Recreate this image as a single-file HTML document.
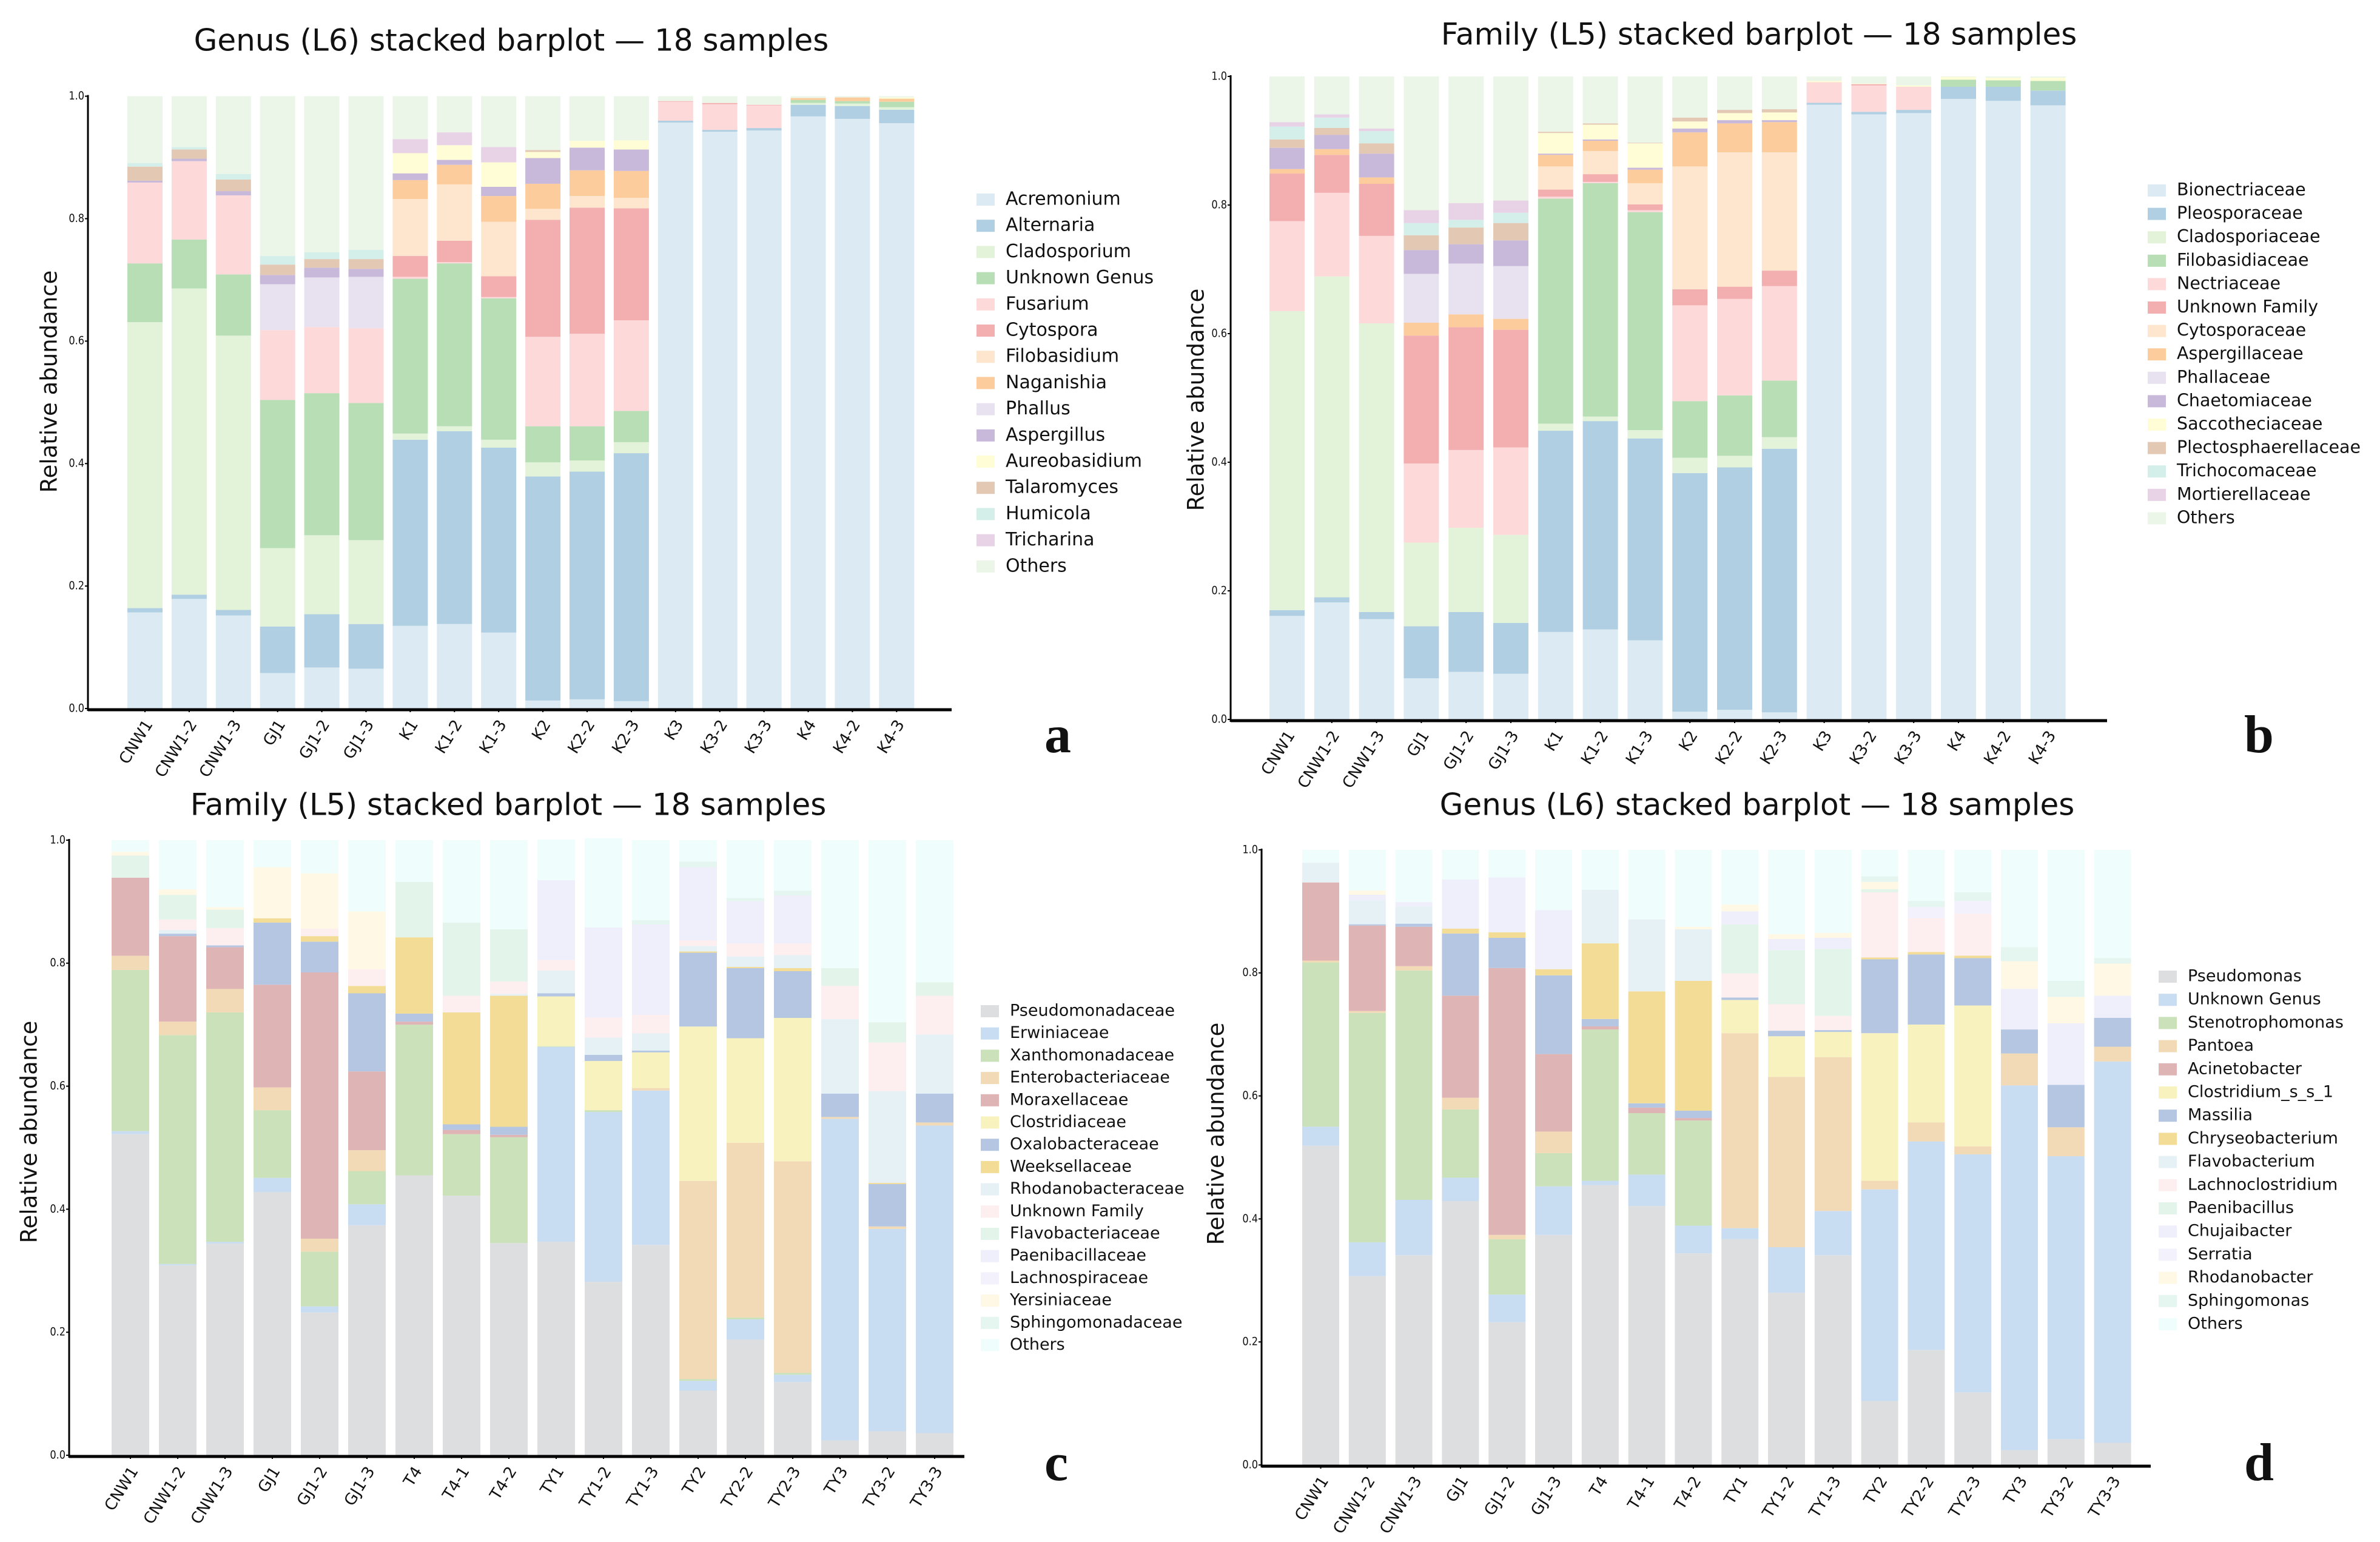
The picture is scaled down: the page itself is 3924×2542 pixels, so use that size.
<!DOCTYPE html>
<html><head><meta charset="utf-8"><style>
html,body{margin:0;padding:0;background:#fff;}
svg{display:block;}
text{font-family:"DejaVu Sans","Liberation Sans",sans-serif;fill:#111;}
</style></head><body>
<svg id="chart" xmlns="http://www.w3.org/2000/svg" width="3924" height="2542" viewBox="0 0 3924 2542"></svg>
<script>
// ---------- Panel a (fungal genus) ----------
const aSamples = ["CNW1","CNW1-2","CNW1-3","GJ1","GJ1-2","GJ1-3","K1","K1-2","K1-3","K2","K2-2","K2-3","K3","K3-2","K3-3","K4","K4-2","K4-3"];
const aNames = ["Acremonium","Alternaria","Cladosporium","Unknown Genus","Fusarium","Cytospora","Filobasidium","Naganishia","Phallus","Aspergillus","Aureobasidium","Talaromyces","Humicola","Tricharina","Others"];
const aAcremonium   = [.157,.179,.152,.058,.067,.065,.135,.138,.124,.013,.015,.012,.957,.942,.944,.967,.963,.956];
const aAlternaria   = [.007,.007,.009,.076,.087,.073,.304,.315,.302,.366,.372,.405,.003,.003,.004,.019,.021,.022];
const aCladosporium = [.467,.500,.448,.128,.129,.137,.010,.008,.013,.023,.018,.018,0,0,0,.003,.004,.004];
const aUnknownGenus = [.096,.080,.100,.242,.232,.224,.253,.266,.231,.059,.056,.051,0,0,0,.005,.004,.009];
const aFusarium     = [.132,.128,.129,.114,.108,.122,.003,.002,.002,.146,.151,.148,.031,.042,.037,0,0,0];
const aCytospora    = [0,0,0,0,0,0,.034,.035,.034,.191,.206,.183,.001,.002,.001,0,0,0];
const aFilobasidium = [0,0,0,0,0,0,.093,.092,.089,.018,.019,.017,0,0,0,0,0,0];
const aNaganishia   = [0,0,0,0,0,0,.031,.032,.042,.041,.042,.044,0,0,0,.003,.006,.005];
const aPhallus      = [0,0,0,.075,.081,.084,0,0,0,0,0,0,0,0,0,0,0,0];
const aAspergillus  = [.003,.004,.007,.015,.016,.013,.011,.008,.015,.042,.037,.035,0,0,0,0,0,0];
const aAureobasidium= [0,0,0,0,0,0,.033,.024,.040,.010,.011,.015,0,0,0,0,0,.002];
const aTalaromyces  = [.023,.015,.019,.017,.014,.016,0,0,0,.003,0,0,0,0,0,0,0,0];
const aHumicola     = [.006,.004,.009,.014,.011,.015,0,0,0,0,0,0,0,0,0,0,0,0];
const aTricharina   = [0,0,0,0,0,0,.023,.021,.025,0,0,0,0,0,0,0,0,0];
const aOthers       = [.109,.083,.127,.261,.255,.251,.070,.059,.083,.088,.073,.072,.008,.011,.014,.003,.002,.002];

// ---------- Panel b (fungal family) ----------
const bSamples = aSamples;
const bNames = ["Bionectriaceae","Pleosporaceae","Cladosporiaceae","Filobasidiaceae","Nectriaceae","Unknown Family","Cytosporaceae","Aspergillaceae","Phallaceae","Chaetomiaceae","Saccotheciaceae","Plectosphaerellaceae","Trichocomaceae","Mortierellaceae","Others"];
const bBionectriaceae = [.161,.182,.156,.064,.074,.071,.136,.140,.123,.012,.015,.011,.956,.941,.943,.965,.962,.955];
const bPleosporaceae  = [.009,.008,.011,.081,.093,.079,.313,.324,.314,.371,.377,.410,.003,.004,.005,.019,.022,.023];
const bCladosporiaceae= [.465,.499,.449,.130,.131,.137,.011,.007,.013,.024,.018,.018,0,0,0,0,0,0];
const bFilobasidiaceae= [0,0,0,0,0,0,.350,.363,.339,.088,.094,.088,0,0,0,.011,.010,.015];
const bNectriaceae    = [.140,.130,.136,.123,.121,.136,.003,.002,.003,.149,.150,.147,.032,.041,.036,0,0,0];
const bUnknownFamily  = [.074,.059,.081,.199,.191,.183,.011,.012,.009,.025,.019,.024,0,.002,0,0,0,0];
const bCytosporaceae  = [0,0,0,0,0,0,.036,.036,.033,.191,.209,.184,0,0,0,0,0,0];
const bAspergillaceae = [.007,.009,.010,.020,.020,.017,.018,.016,.021,.053,.045,.047,0,0,0,0,0,0];
const bPhallaceae     = [0,0,0,.076,.079,.082,0,0,0,0,0,0,0,0,0,0,0,0];
const bChaetomiaceae  = [.033,.022,.037,.037,.030,.040,.002,.002,.003,.006,.005,.003,0,0,0,0,0,0];
const bSaccotheciaceae= [0,0,0,0,0,0,.032,.023,.038,.011,.011,.012,.002,.001,.002,.004,.004,.005];
const bPlectosphaerellaceae=[.013,.011,.016,.023,.026,.027,.002,.002,.001,.006,.005,.005,0,0,0,0,0,0];
const bTrichocomaceae = [.020,.016,.019,.019,.012,.016,0,0,0,0,0,0,0,0,0,0,0,0];
const bMortierellaceae= [.007,.005,.004,.020,.026,.019,0,0,0,0,0,0,0,0,0,0,0,0];
const bOthers         = [.071,.059,.081,.208,.197,.193,.086,.073,.103,.064,.052,.051,.007,.011,.014,.001,.002,.002];

// ---------- Panel c (bacterial family) ----------
const cSamples = ["CNW1","CNW1-2","CNW1-3","GJ1","GJ1-2","GJ1-3","T4","T4-1","T4-2","TY1","TY1-2","TY1-3","TY2","TY2-2","TY2-3","TY3","TY3-2","TY3-3"];
const cNames = ["Pseudomonadaceae","Erwiniaceae","Xanthomonadaceae","Enterobacteriaceae","Moraxellaceae","Clostridiaceae","Oxalobacteraceae","Weeksellaceae","Rhodanobacteraceae","Unknown Family","Flavobacteriaceae","Paenibacillaceae","Lachnospiraceae","Yersiniaceae","Sphingomonadaceae","Others"];
const cPseudomonadaceae  = [.522,.309,.344,.428,.232,.374,.455,.422,.345,.347,.282,.342,.105,.188,.119,.024,.039,.036];
const cErwiniaceae       = [.005,.002,.003,.023,.010,.034,0,0,0,.317,.276,.251,.016,.033,.012,.523,.329,.500];
const cXanthomonadaceae  = [.262,.372,.373,.110,.089,.054,.245,.100,.172,.001,.003,0,.003,.003,.003,0,0,0];
const cEnterobacteriaceae= [.023,.022,.038,.037,.021,.034,0,0,0,0,0,.004,.322,.284,.344,.003,.004,.005];
const cMoraxellaceae     = [.127,.139,.068,.167,.433,.128,.005,.007,.004,0,0,0,0,0,0,0,0,0];
const cClostridiaceae    = [0,0,0,0,0,0,0,0,0,.081,.080,.058,.251,.170,.233,0,0,0];
const cOxalobacteraceae  = [0,.004,.003,.101,.050,.127,.013,.009,.013,.005,.010,.003,.120,.114,.076,.038,.069,.047];
const cWeeksellaceae     = [0,0,0,.007,.009,.012,.124,.182,.213,0,0,0,.002,.002,.005,0,.002,0];
const cRhodanobacteraceae= [0,.006,0,0,0,0,0,0,.003,.037,.028,.028,.009,.017,.021,.121,.149,.096];
const cUnknownFamily     = [0,.017,.028,0,.012,.027,0,.027,.020,.017,.033,.030,.009,.021,.019,.054,.079,.063];
const cFlavobacteriaceae = [.036,.040,.030,0,0,0,.090,.119,.085,0,0,0,0,0,0,.029,.033,.022];
const cPaenibacillaceae  = [0,0,0,0,0,0,0,0,0,.130,.146,.147,.119,.069,.078,0,0,0];
const cLachnospiraceae   = [0,0,0,0,0,0,0,0,0,0,0,0,0,0,0,0,0,0];
const cYersiniaceae      = [.006,.009,.004,.083,.090,.094,0,0,0,0,0,0,0,0,0,0,0,0];
const cSphingomonadaceae = [0,0,0,0,0,0,0,0,0,0,0,.007,.009,.005,.008,0,0,0];
const cOthers            = [.019,.080,.109,.044,.054,.116,.068,.134,.145,.066,.145,.130,.035,.094,.082,.208,.296,.231];

// ---------- Panel d (bacterial genus) ----------
const dSamples = cSamples;
const dNames = ["Pseudomonas","Unknown Genus","Stenotrophomonas","Pantoea","Acinetobacter","Clostridium_s_s_1","Massilia","Chryseobacterium","Flavobacterium","Lachnoclostridium","Paenibacillus","Chujaibacter","Serratia","Rhodanobacter","Sphingomonas","Others"];
const dPseudomonas     = [.519,.307,.341,.429,.232,.374,.455,.421,.344,.367,.280,.341,.104,.187,.118,.024,.042,.036];
const dUnknownGenus    = [.031,.055,.090,.038,.045,.079,.007,.051,.045,.018,.074,.072,.344,.339,.387,.593,.460,.620];
const dStenotrophomonas= [.267,.373,.373,.111,.090,.054,.246,.100,.171,0,0,0,0,0,0,0,0,0];
const dPantoea         = [.003,.003,.007,.019,.007,.035,0,0,0,.317,.277,.250,.014,.031,.013,.052,.047,.024];
const dAcinetobacter   = [.127,.139,.064,.166,.434,.126,.005,.009,.004,0,0,0,0,0,0,0,0,0];
const dClostridium     = [0,0,0,0,0,0,0,0,0,.054,.066,.041,.240,.159,.229,0,0,0];
const dMassilia        = [0,.002,.005,.101,.049,.128,.012,.007,.012,.004,.009,.003,.120,.114,.077,.039,.069,.047];
const dChryseobacterium= [0,0,0,.008,.009,.010,.123,.182,.211,0,0,0,.003,.004,.004,0,0,0];
const dFlavobacterium  = [.032,.039,.028,0,0,0,.087,.117,.084,0,0,0,0,0,0,0,0,0];
const dLachnoclostridium=[0,0,0,0,0,0,0,0,0,.039,.043,.023,.106,.055,.068,0,0,0];
const dPaenibacillus   = [0,0,0,0,0,0,0,0,0,.080,.088,.109,.005,0,0,0,0,0];
const dChujaibacter    = [0,.009,.007,.080,.089,.096,0,0,0,.021,.018,.018,0,0,0,.066,.100,.036];
const dSerratia        = [0,0,0,0,0,0,0,0,0,0,0,0,0,.018,.021,0,0,0];
const dRhodanobacter   = [0,.007,0,0,0,0,0,0,.004,.011,.008,.008,.012,0,0,.045,.043,.052];
const dSphingomonas    = [0,0,0,0,0,0,0,0,0,0,0,0,.009,.010,.014,.023,.026,.009];
const dOthers          = [.021,.066,.085,.048,.045,.098,.065,.113,.125,.089,.137,.135,.043,.083,.069,.158,.213,.176];

const aSeries=[aAcremonium,aAlternaria,aCladosporium,aUnknownGenus,aFusarium,aCytospora,aFilobasidium,aNaganishia,aPhallus,aAspergillus,aAureobasidium,aTalaromyces,aHumicola,aTricharina,aOthers];
const bSeries=[bBionectriaceae,bPleosporaceae,bCladosporiaceae,bFilobasidiaceae,bNectriaceae,bUnknownFamily,bCytosporaceae,bAspergillaceae,bPhallaceae,bChaetomiaceae,bSaccotheciaceae,bPlectosphaerellaceae,bTrichocomaceae,bMortierellaceae,bOthers];
const cSeries=[cPseudomonadaceae,cErwiniaceae,cXanthomonadaceae,cEnterobacteriaceae,cMoraxellaceae,cClostridiaceae,cOxalobacteraceae,cWeeksellaceae,cRhodanobacteraceae,cUnknownFamily,cFlavobacteriaceae,cPaenibacillaceae,cLachnospiraceae,cYersiniaceae,cSphingomonadaceae,cOthers];
const dSeries=[dPseudomonas,dUnknownGenus,dStenotrophomonas,dPantoea,dAcinetobacter,dClostridium,dMassilia,dChryseobacterium,dFlavobacterium,dLachnoclostridium,dPaenibacillus,dChujaibacter,dSerratia,dRhodanobacter,dSphingomonas,dOthers];
const yTicks=[0,0.2,0.4,0.6,0.8,1.0];

const fungColors=["#dbeaf3","#b1cfe3","#e3f3d9","#b8deb5","#fdd9da","#f3aeb0","#fde6cd","#fdcc9c","#e8e2f0","#c8b8da","#fffdd6","#e3c8b4","#d4efea","#e8d2e6","#ecf6e8"];
const bactColors=["#dddee0","#c8dcf2","#cae1ba","#f3dab6","#dfb4b5","#f8f2be","#b4c6e2","#f3dc96","#e6f1f6","#fdeeef","#e3f4ea","#efeefb","#f3f1fb","#fef8e4","#e5f5ef","#effdfd"];

const svg=document.getElementById('chart');
const NS="http://www.w3.org/2000/svg";
function mk(tag,attrs,parent){const e=document.createElementNS(NS,tag);for(const k in attrs)e.setAttribute(k,attrs[k]);(parent||svg).appendChild(e);return e;}

function panel(cfg){
  const g=mk('g',{});
  
  
  const ys=v=>cfg.y0-(cfg.y0-cfg.y1)*v;
  const xs=i=>cfg.first+cfg.pitch*i;
  cfg.samples.forEach((s,i)=>{
    let cum=0;
    cfg.series.forEach((arr,k)=>{
      const v=arr[i]; if(!v) return;
      const r=mk('rect',{x:xs(i),y:ys(cum+v),width:cfg.bw,height:Math.max(0,ys(cum)-ys(cum+v)),fill:cfg.colors[k]},g);
      
      
      cum+=v;
    });
    mk('line',{x1:xs(i)+cfg.bw/2,x2:xs(i)+cfg.bw/2,y1:cfg.y0,y2:cfg.y0+6,stroke:'#000','stroke-width':2},g);
    const cx=xs(i)+cfg.bw/2-2, cy=cfg.y0+16;
    const lab=mk('text',{x:cx,y:cy,'font-size':26,'text-anchor':'end','dominant-baseline':'hanging',transform:`rotate(-58 ${cx} ${cy})`},g);
    lab.textContent=s;
    
    
  });
  const ax=mk('line',{x1:cfg.ax,x2:cfg.axEnd,y1:cfg.y0+2,y2:cfg.y0+2,stroke:'#000','stroke-width':5},g);
  
  
  const ay=mk('line',{x1:cfg.ax,x2:cfg.ax,y1:cfg.y1-2,y2:cfg.y0+4,stroke:'#000','stroke-width':3},g);
  
  
  yTicks.forEach(v=>{
    mk('line',{x1:cfg.ax-5,x2:cfg.ax,y1:ys(v),y2:ys(v),stroke:'#000','stroke-width':2},g);
    const t=mk('text',{x:cfg.ax-6,y:ys(v),'font-size':19,'text-anchor':'end','dominant-baseline':'middle',transform:`scale(0.85 1)`,'transform-origin':`${cfg.ax-6} ${ys(v)}`},g);
    t.textContent=v.toFixed(1);
    
    
  });
  const yl=mk('text',{x:cfg.ylx,y:cfg.yly,'font-size':37,'text-anchor':'middle','dominant-baseline':'middle',transform:`rotate(-90 ${cfg.ylx} ${cfg.yly})`},g);
  yl.textContent='Relative abundance';
  
  
  const ti=mk('text',{x:cfg.tx,y:cfg.ty,'font-size':50,'text-anchor':'middle','dominant-baseline':'middle'},g);
  ti.textContent=cfg.title;
  
  
  const pl=mk('text',{x:cfg.px,y:cfg.py,'font-size':88,'font-weight':'bold',style:'font-family:"Liberation Serif","DejaVu Serif",serif'},g);
  pl.textContent=cfg.id;
  
  
  const lg=mk('g',{},g);
  
  
  cfg.names.forEach((n,k)=>{
    const y=cfg.ly+cfg.lstep*k;
    const e=mk('g',{},lg);
    
    
    mk('rect',{x:cfg.lx,y:y-10,width:30,height:20,fill:cfg.colors[k]},e);
    const t=mk('text',{x:cfg.lx+48,y:y,'font-size':cfg.lfs,'dominant-baseline':'middle'},e);
    t.textContent=n;
  });
}

panel({id:'a',samples:aSamples,names:aNames,series:aSeries,colors:fungColors,y0:1168,y1:158.6,first:210,pitch:72.9,bw:58,ax:145,axEnd:1569,
  ylx:83,yly:629,tx:843,ty:70,title:'Genus (L6) stacked barplot — 18 samples',px:1722,py:1240,lx:1610,ly:329,lstep:43.2,lfs:30});
panel({id:'b',samples:bSamples,names:bNames,series:bSeries,colors:fungColors,y0:1186,y1:126,first:2093,pitch:73.8,bw:58,ax:2029,axEnd:3474,
  ylx:1974,yly:659,tx:2900,ty:60,title:'Family (L5) stacked barplot — 18 samples',px:3700,py:1240,lx:3541,ly:314,lstep:38.6,lfs:28.5});
panel({id:'c',samples:cSamples,names:cNames,series:cSeries,colors:bactColors,y0:2399,y1:1385,first:184,pitch:78,bw:62,ax:114,axEnd:1590,
  ylx:50,yly:1866,tx:838,ty:1330,title:'Family (L5) stacked barplot — 18 samples',px:1722,py:2440,lx:1617,ly:1667,lstep:36.7,lfs:27});
panel({id:'d',samples:dSamples,names:dNames,series:dSeries,colors:bactColors,y0:2415,y1:1401,first:2147,pitch:76.8,bw:61,ax:2080,axEnd:3546,
  ylx:2007,yly:1869,tx:2897,ty:1330,title:'Genus (L6) stacked barplot — 18 samples',px:3700,py:2440,lx:3559,ly:1610,lstep:38.2,lfs:27});
</script>
</body></html>
